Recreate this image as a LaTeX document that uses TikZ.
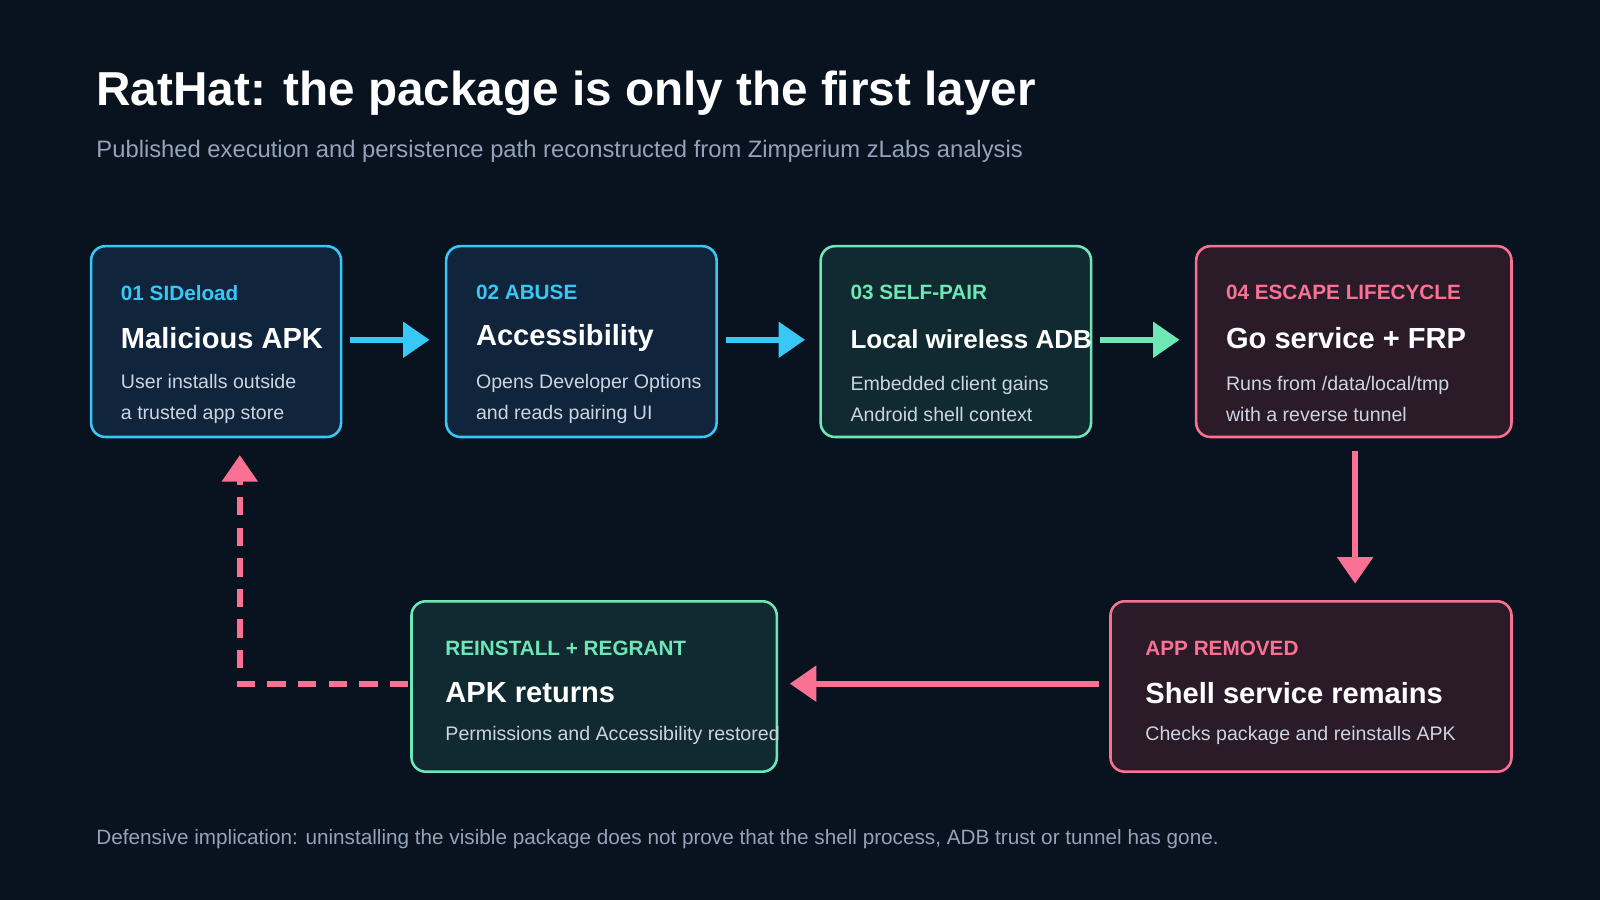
\documentclass[tikz,border=0pt]{standalone}
\usepackage{fontspec}
\setmainfont{Liberation Sans}
\usetikzlibrary{arrows.meta}
\definecolor{bg}{HTML}{08131F}
\definecolor{cy}{HTML}{38C8F5}
\definecolor{gr}{HTML}{6EE7B7}
\definecolor{pk}{HTML}{FB7193}
\definecolor{fcy}{HTML}{10243B}
\definecolor{fgr}{HTML}{112A31}
\definecolor{fpk}{HTML}{2B1B28}
\definecolor{sub}{HTML}{94A3B8}
\definecolor{body}{HTML}{CBD5E1}
\tikzset{
 box/.style={draw=#1,line width=2.5pt,rounded corners=14pt,anchor=north west},
 lab/.style={anchor=west,font=\fontsize{20.3}{24}\selectfont\bfseries,text=#1},
 head/.style={anchor=west,font=\fontsize{28.5}{32}\selectfont\bfseries,text=white},
 txt/.style={anchor=west,font=\fontsize{19.2}{29.5}\selectfont,text=body,align=left},
 arr/.style={draw=#1,line width=6pt,-{Triangle[length=26pt,width=34pt]}},
}
\begin{document}
\begin{tikzpicture}[x=1pt,y=-1pt]
\fill[bg] (0,0) rectangle (1568,882);
\useasboundingbox (0,0) rectangle (1568,882);
\node[anchor=west,text=white,font=\fontsize{46.7}{52}\selectfont\bfseries] (title) at (91,91) {RatHat: the package is only the first layer};
\node[anchor=west,text=sub,font=\fontsize{23.3}{28}\selectfont] (subt) at (91,148) {Published execution and persistence path reconstructed from Zimperium zLabs analysis};
% boxes
\node[box=cy,fill=fcy,minimum width=245pt,minimum height=187pt] (b1) at (88,240) {};
\node[box=cy,fill=fcy,minimum width=265pt,minimum height=187pt] (b2) at (436,240) {};
\node[box=gr,fill=fgr,minimum width=265pt,minimum height=187pt] (b3) at (803,240) {};
\node[box=pk,fill=fpk,minimum width=309pt,minimum height=187pt] (b4) at (1171,240) {};
\node[box=pk,fill=fpk,minimum width=393pt,minimum height=167pt] (b5) at (1087,588) {};
\node[box=gr,fill=fgr,minimum width=358pt,minimum height=167pt] (b6) at (402,588) {};
% texts
\node[lab=cy] (l1) at (115,287) {01 SIDeload};
\node[head] (h1) at (115,331) {Malicious APK};
\node[txt] (t1) at (115,391) {User installs outside\\a trusted app store};
\node[lab=cy] (l2) at (463,287) {02 ABUSE};
\node[head] (h2) at (463,331) {Accessibility};
\node[txt] (t2) at (463,391) {Opens Developer Options\\and reads pairing UI};
\node[lab=gr] (l3) at (830,287) {03 SELF-PAIR};
\node[head,font=\fontsize{25.5}{30}\selectfont\bfseries] (h3) at (830,332) {Local wireless ADB};
\node[txt] (t3) at (830,391) {Embedded client gains\\Android shell context};
\node[lab=pk] (l4) at (1198,287) {04 ESCAPE LIFECYCLE};
\node[head] (h4) at (1198,331) {Go service + FRP};
\node[txt] (t4) at (1198,391) {Runs from /data/local/tmp\\with a reverse tunnel};
\node[lab=pk] (l5) at (1119,635) {APP REMOVED};
\node[head] (h5) at (1119,679) {Shell service remains};
\node[txt] (t5) at (1119,721) {Checks package and reinstalls APK};
\node[lab=gr] (l6) at (433,635) {REINSTALL + REGRANT};
\node[head] (h6) at (433,679) {APK returns};
\node[txt] (t6) at (433,721) {Permissions and Accessibility restored};
\node[anchor=west,text=sub,font=\fontsize{20.3}{24}\selectfont] (foot) at (91,822) {Defensive implication: uninstalling the visible package does not prove that the shell process, ADB trust or tunnel has gone.};
% arrows
\coordinate (a1s) at (343,333); \coordinate (a1e) at (421,333);
\coordinate (a2s) at (711,333); \coordinate (a2e) at (789,333);
\coordinate (a3s) at (1078,333); \coordinate (a3e) at (1156,333);
\coordinate (a4s) at (1328,442); \coordinate (a4e) at (1328,572);
\coordinate (a5s) at (1077,670); \coordinate (a5e) at (774,670);
\coordinate (a6s) at (400,670); \coordinate (a6m) at (235,670); \coordinate (a6e) at (235,446);
\draw[arr=cy] (a1s) -- (a1e);
\draw[arr=cy] (a2s) -- (a2e);
\draw[arr=gr] (a3s) -- (a3e);
\draw[arr=pk] (a4s) -- (a4e);
\draw[arr=pk] (a5s) -- (a5e);
\draw[arr=pk,dash pattern=on 18pt off 12pt] (a6s) -- (a6m) -- (a6e);
\end{tikzpicture}
\end{document}
